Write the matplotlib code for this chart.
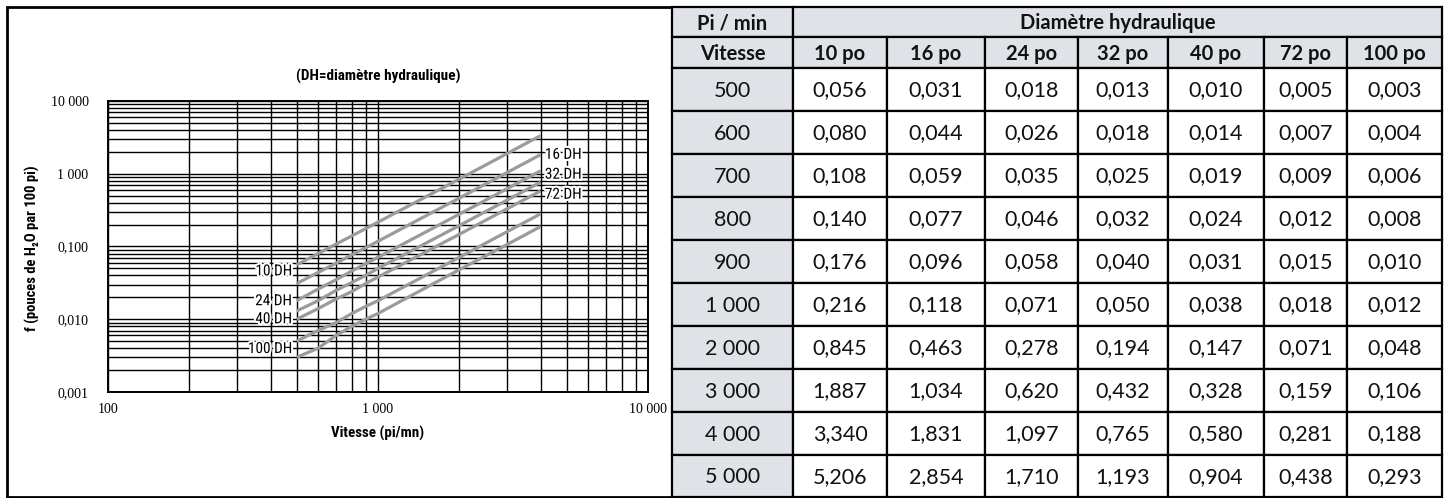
import numpy as np
import matplotlib.pyplot as plt
from matplotlib import font_manager
from matplotlib.patches import Rectangle
from matplotlib.ticker import NullFormatter
import matplotlib.patheffects as pe

# donnees du tableau (pouces de H2O par 100 pi)
vitesse = [500, 600, 700, 800, 900, 1000, 2000, 3000, 4000, 5000]
diametres = ['10 po', '16 po', '24 po', '32 po', '40 po', '72 po', '100 po']
dh_10 = [0.056, 0.080, 0.108, 0.140, 0.176, 0.216, 0.845, 1.887, 3.340, 5.206]
dh_16 = [0.031, 0.044, 0.059, 0.077, 0.096, 0.118, 0.463, 1.034, 1.831, 2.854]
dh_24 = [0.018, 0.026, 0.035, 0.046, 0.058, 0.071, 0.278, 0.620, 1.097, 1.710]
dh_32 = [0.013, 0.018, 0.025, 0.032, 0.040, 0.050, 0.194, 0.432, 0.765, 1.193]
dh_40 = [0.010, 0.014, 0.019, 0.024, 0.031, 0.038, 0.147, 0.328, 0.580, 0.904]
dh_72 = [0.005, 0.007, 0.009, 0.012, 0.015, 0.018, 0.071, 0.159, 0.281, 0.438]
dh_100 = [0.003, 0.004, 0.006, 0.008, 0.010, 0.012, 0.048, 0.106, 0.188, 0.293]
series = [dh_10, dh_16, dh_24, dh_32, dh_40, dh_72, dh_100]

# axes du graphique
x_ticks = [100, 1000, 10000]
x_tick_labels = ['100', '1 000', '10 000']
y_ticks = [0.001, 0.01, 0.1, 1, 10]
y_tick_labels = ['0,001', '0,010', '0,100', '1 000', '10 000']
v_max_courbe = 4000  # les courbes s'arretent a 4000 pi/mn

# etiquettes des courbes : (texte, x, y, alignement)
etiquettes = [('10 DH', 480, 0.0455, 'right'), ('24 DH', 480, 0.0177, 'right'),
              ('40 DH', 480, 0.0100, 'right'), ('100 DH', 480, 0.0039, 'right'),
              ('16 DH', 4150, 1.82, 'left'), ('32 DH', 4150, 0.97, 'left'),
              ('72 DH', 4150, 0.515, 'left')]

# choix des polices
polices = font_manager.fontManager.ttflist
noms = {f.name for f in polices}
def choisir(cands, defaut, gras=False):
    for c in cands:
        if gras:
            if any(f.name == c and f.weight in (600, 700, 'bold', 'semibold') for f in polices):
                return c
        elif c in noms:
            return c
    return defaut
f_cond = choisir(['Liberation Sans Narrow', 'Roboto Condensed', 'DejaVu Sans Condensed'], 'DejaVu Sans')
f_serif = choisir(['Liberation Serif', 'DejaVu Serif'], 'serif')
f_tab = choisir(['Noto Sans', 'Lato', 'Open Sans', 'Roboto'], 'DejaVu Sans', gras=True)

W, H = 1451, 498
fig = plt.figure(figsize=(W/100, H/100), dpi=100)

# ---- graphique ----
x0, x1, y0, y1 = 108, 648, 101, 392
ax = fig.add_axes([x0/W, 1-y1/H, (x1-x0)/W, (y1-y0)/H])
ax.set_xscale('log')
ax.set_yscale('log')
ax.set_xlim(100, 10000)
ax.set_ylim(0.001, 10)
ax.grid(True, which='both', color='black', lw=1.0)
ax.set_axisbelow(True)
ax.tick_params(which='both', length=0)
ax.xaxis.set_minor_formatter(NullFormatter())
ax.yaxis.set_minor_formatter(NullFormatter())
ax.set_xticks(x_ticks, labels=x_tick_labels)
ax.set_yticks(y_ticks, labels=y_tick_labels)
ax.tick_params(axis='x', pad=8)
ax.tick_params(axis='y', pad=14)
for lab in ax.get_xticklabels() + ax.get_yticklabels():
    lab.set_fontfamily(f_serif)
    lab.set_fontsize(10)
for s in ax.spines.values():
    s.set_linewidth(1.4)

v = np.array(vitesse)
m = v <= v_max_courbe
for ser in series:
    ax.plot(v[m], np.array(ser)[m], color='#9b9b9b', lw=2.3, solid_capstyle='butt', zorder=3)

halo = [pe.withStroke(linewidth=3, foreground='white')]
for txt, xx, yy, ha in etiquettes:
    ax.text(xx, yy, txt, ha=ha, va='center', fontsize=11, family=f_cond,
            fontstretch='condensed', path_effects=halo, zorder=4)

# ---- cadre et textes en pixels ----
ov = fig.add_axes([0, 0, 1, 1])
ov.set_xlim(0, W)
ov.set_ylim(H, 0)
ov.axis('off')
ov.add_patch(Rectangle((7, 7), 665, 490, fill=False, ec='black', lw=2.0))
ov.text(378, 76, '(DH=diamètre hydraulique)', ha='center', va='center', fontsize=11,
        weight='bold', family=f_cond, fontstretch='condensed')
ov.text(378, 433, 'Vitesse (pi/mn)', ha='center', va='center', fontsize=10.8,
        weight='bold', family=f_cond, fontstretch='condensed')
ov.text(32, 248, 'f (pouces de H₂O par 100 pi)', ha='center', va='center', rotation=90,
        fontsize=10.5, weight='bold', family=f_cond, fontstretch='condensed')

# ---- tableau ----
cols = [672, 793, 887, 985, 1078, 1168, 1264, 1347, 1442]
rows = [7, 37, 68, 111, 154, 197, 240, 283, 326, 369, 412, 455, 497]
gris = '#dfe3e8'
lw_t = 1.6

def cellule(xa, xb, ya, yb, txt, fond, gras):
    ov.add_patch(Rectangle((xa, ya), xb-xa, yb-ya, fc=fond, ec='black', lw=lw_t))
    ov.text((xa+xb)/2, (ya+yb)/2 + 1, txt, ha='center', va='center',
            fontsize=14.5 if gras else 15.5,
            family=f_tab, weight='bold' if gras else 'normal', color='#111111')

def fmt_v(n):
    return f'{n:,}'.replace(',', ' ')

def fmt_f(x):
    return f'{x:.3f}'.replace('.', ',')

cellule(cols[0], cols[1], rows[0], rows[1], 'Pi / min', gris, True)
cellule(cols[1], cols[-1], rows[0], rows[1], 'Diamètre hydraulique', gris, True)
cellule(cols[0], cols[1], rows[1], rows[2], 'Vitesse', gris, True)
for j, d in enumerate(diametres):
    cellule(cols[j+1], cols[j+2], rows[1], rows[2], d, gris, True)
for i, vv in enumerate(vitesse):
    cellule(cols[0], cols[1], rows[i+2], rows[i+3], fmt_v(vv), gris, False)
    for j, ser in enumerate(series):
        cellule(cols[j+1], cols[j+2], rows[i+2], rows[i+3], fmt_f(ser[i]), 'white', False)

fig.savefig('out.png', dpi=100)
